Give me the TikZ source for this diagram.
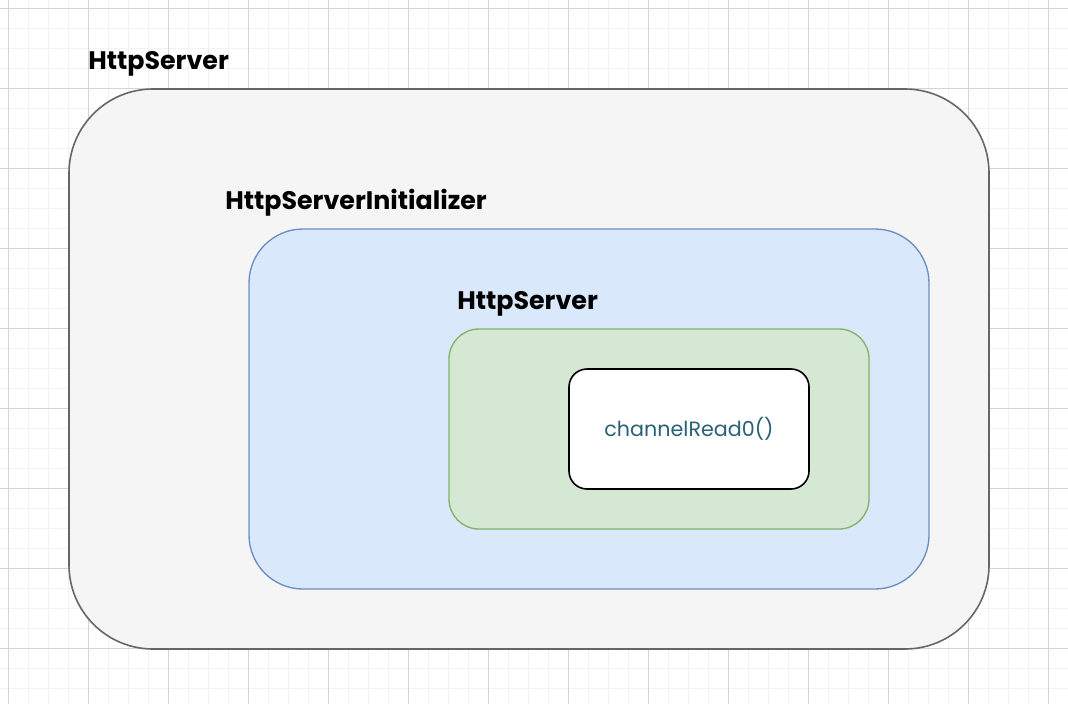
\documentclass[tikz,border=0pt]{standalone}
\usepackage{fontspec}
\setmainfont{Poppins}
\usetikzlibrary{positioning}

\definecolor{gridminor}{HTML}{F2F2F2}
\definecolor{gridmajor}{HTML}{D4D4D4}
\definecolor{serverfill}{HTML}{F5F5F5}
\definecolor{serverline}{HTML}{666666}
\definecolor{initfill}{HTML}{DAE8FC}
\definecolor{initline}{HTML}{6C8EBF}
\definecolor{handlerfill}{HTML}{D5E8D4}
\definecolor{handlerline}{HTML}{82B366}
\definecolor{methodtext}{HTML}{2A6078}

\begin{document}
\begin{tikzpicture}[x=0.75pt,y=-0.75pt,
  minorline/.style={gridminor, line width=0.75pt},
  majorline/.style={gridmajor, line width=0.75pt},
  title/.style={font=\fontsize{19}{22}\selectfont\bfseries, anchor=base west, inner sep=0pt},
  serverbox/.style={draw=serverline, fill=serverfill, line width=1.2pt, rounded corners=63pt,
    minimum width=690pt, minimum height=420pt},
  initbox/.style={draw=initline, fill=initfill, line width=1pt, rounded corners=40.5pt,
    minimum width=510pt, minimum height=270pt},
  handlerbox/.style={draw=handlerline, fill=handlerfill, line width=1pt, rounded corners=22.5pt,
    minimum width=315pt, minimum height=150pt},
  methodbox/.style={draw=black, fill=white, line width=1.2pt, rounded corners=13.5pt,
    minimum width=180pt, minimum height=90pt, text=methodtext,
    font=\fontsize{15.5}{18}\selectfont}]
\useasboundingbox (0,0) rectangle (1068,704);
\fill[white] (0,0) rectangle (1068,704);
% background grid
\foreach \g in {8,28,...,1068} {
  \draw[minorline] (\g,0) -- (\g,704);
}
\foreach \g in {8,28,...,704} {
  \draw[minorline] (0,\g) -- (1068,\g);
}
\foreach \g in {8,88,...,1068} {
  \draw[majorline] (\g,0) -- (\g,704);
}
\foreach \g in {8,88,...,704} {
  \draw[majorline] (0,\g) -- (1068,\g);
}
% nested boxes
\node[serverbox] (server) at (529,369) {};
\node[initbox] (init) at (589,409) {};
\node[handlerbox] (handler) at (659,429) {};
\node[methodbox] (read) at (689,429) {channelRead0()};
% titles
\node[title] (servertitle) at (88,69) {HttpServer};
\node[title] (inittitle) at (225,209) {HttpServerInitializer};
\node[title] (handlertitle) at (457,309) {HttpServer};
\end{tikzpicture}
\end{document}
